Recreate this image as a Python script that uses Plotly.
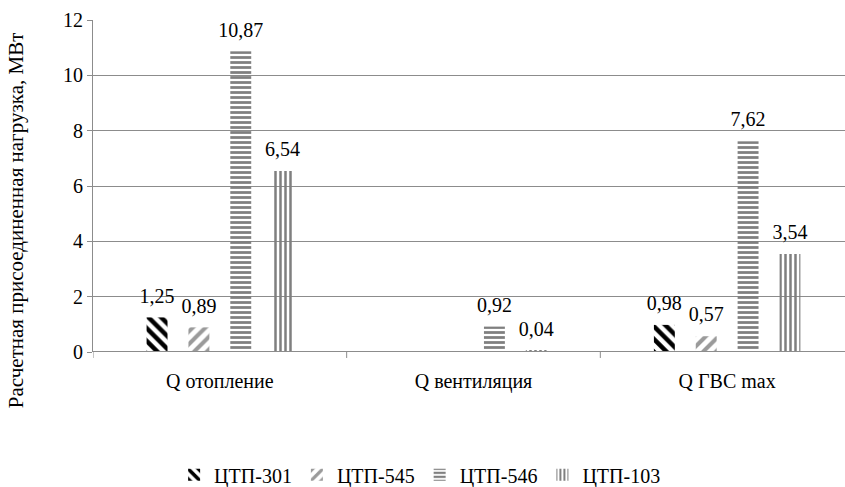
import plotly.graph_objects as go

categories = ["Q отопление", "Q вентиляция", "Q ГВС max"]
series_names = ["ЦТП-301", "ЦТП-545", "ЦТП-546", "ЦТП-103"]
ctp_301 = [1.25, None, 0.98]
ctp_545 = [0.89, None, 0.57]
ctp_546 = [10.87, 0.92, 7.62]
ctp_103 = [6.54, 0.04, 3.54]
y_ticks = [0, 2, 4, 6, 8, 10, 12]

series_values = [ctp_301, ctp_545, ctp_546, ctp_103]
patterns = [
    dict(shape="\\", fgcolor="#000000", size=9, solidity=0.5),
    dict(shape="/", fgcolor="#9a9a9a", size=9, solidity=0.45),
    dict(shape="-", fgcolor="#7f7f7f", size=5, solidity=0.55),
    dict(shape="|", fgcolor="#7f7f7f", size=5, solidity=0.5),
]

FONT = "Times New Roman"
GAP = 0.34


def fmt(v):
    return "" if v is None else f"{v:.2f}".replace(".", ",")


fig = go.Figure()
for name, vals, pat in zip(series_names, series_values, patterns):
    fig.add_trace(go.Bar(
        name=name,
        x=categories,
        y=vals,
        marker=dict(color="#ffffff", pattern=dict(fillmode="replace", **pat),
                    line=dict(width=0)),
    ))

# value labels, grouped the same way as the bars so each sits over its bar
for name, vals in zip(series_names, series_values):
    fig.add_trace(go.Scatter(
        x=categories,
        y=vals,
        mode="markers+text",
        text=[fmt(v) for v in vals],
        textposition="top center",
        textfont=dict(family=FONT, size=20, color="#000000"),
        marker=dict(size=14, opacity=0),
        showlegend=False,
        hoverinfo="skip",
        cliponaxis=False,
    ))

fig.update_layout(
    width=845,
    height=487,
    margin=dict(l=93, r=0, t=20, b=135, autoexpand=False),
    paper_bgcolor="#ffffff",
    plot_bgcolor="#ffffff",
    barmode="group",
    bargap=GAP,
    bargroupgap=0.5,
    scattermode="group",
    scattergap=GAP,
    font=dict(family=FONT, size=20, color="#000000"),
    showlegend=True,
    legend=dict(
        orientation="h",
        x=0.435, xanchor="center",
        y=-0.37, yanchor="middle",
        bgcolor="rgba(0,0,0,0)",
        font=dict(family=FONT, size=20),
        itemwidth=30,
        traceorder="normal",
    ),
    xaxis=dict(
        type="category",
        range=[-0.5, 2.4646],
        showgrid=False,
        showline=False,
        ticks="",
        tickfont=dict(family=FONT, size=20),
        ticklabelstandoff=15,
    ),
    yaxis=dict(
        range=[0, 12],
        tickvals=y_ticks,
        ticktext=[str(t) for t in y_ticks],
        showgrid=True,
        gridcolor="#8c8c8c",
        gridwidth=1,
        showline=True,
        linecolor="#8c8c8c",
        linewidth=1,
        ticks="outside",
        ticklen=5,
        tickcolor="#8c8c8c",
        tickfont=dict(family=FONT, size=20),
        zeroline=False,
    ),
    annotations=[
        dict(
            text="Расчетная присоединенная нагрузка, МВт",
            textangle=-90,
            xref="paper", yref="paper",
            x=-0.102, y=0.395,
            xanchor="center", yanchor="middle",
            showarrow=False,
            font=dict(family=FONT, size=21),
        )
    ],
    shapes=[
        # baseline along the category axis
        dict(type="line", xref="paper", yref="y", x0=0, x1=1, y0=0, y1=0,
             line=dict(color="#8c8c8c", width=2)),
    ] + [
        # boundary ticks between categories
        dict(type="line", xref="x", yref="paper", x0=b, x1=b, y0=0, y1=-0.018,
             line=dict(color="#8c8c8c", width=1))
        for b in [-0.5, 0.5, 1.5]
    ],
)

fig.write_html("out.html")
